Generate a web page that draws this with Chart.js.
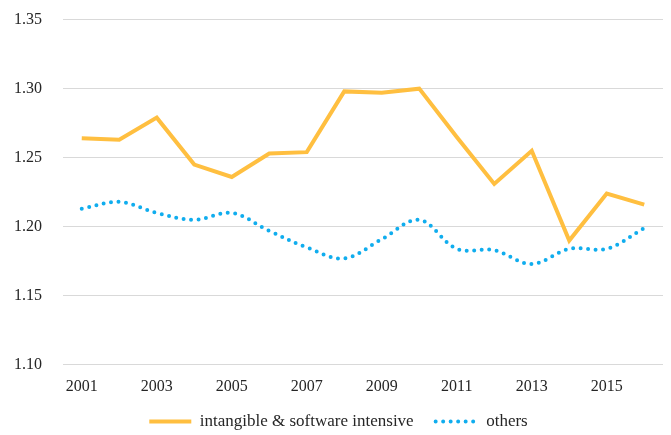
<!DOCTYPE html>
<html>
<head>
<meta charset="utf-8">
<script src="https://cdn.jsdelivr.net/npm/chart.js@4"></script>
<style>
    html, body { margin: 0; padding: 0; background: #fff; }
    #wrap { width: 671px; height: 435px; }
</style>
</head>
<body>
<div id="wrap"><canvas id="ratioChart"></canvas></div>
<script>
const years = ['2001', '2002', '2003', '2004', '2005', '2006', '2007', '2008',
               '2009', '2010', '2011', '2012', '2013', '2014', '2015', '2016'];
const intangible = [1.264, 1.263, 1.279, 1.245, 1.236, 1.253, 1.254, 1.298,
                    1.297, 1.300, 1.265, 1.231, 1.255, 1.190, 1.224, 1.216];
const others = [1.213, 1.218, 1.210, 1.205, 1.210, 1.197, 1.185, 1.177,
                1.191, 1.205, 1.184, 1.183, 1.173, 1.184, 1.184, 1.199];

const fontFamily = '"Liberation Serif", "DejaVu Serif", serif';
const textColor = '#262626';

// legend items take the point style by default, so copy the line's dash/cap back in
function legendLabels(chart) {
    const items = Chart.defaults.plugins.legend.labels.generateLabels(chart);
    items.forEach((item, i) => {
        const ds = chart.data.datasets[item.datasetIndex];
        item.lineDash = ds.borderDash || [];
        item.lineCap = ds.borderCapStyle || 'butt';
        item.lineWidth = ds.borderWidth;
        item.strokeStyle = ds.borderColor;
        // a bit of extra room after the first entry
        if (i === 0) item.text = item.text + '\u2003';
    });
    return items;
}

const ctx = document.getElementById('ratioChart').getContext('2d');
new Chart(ctx, {
    type: 'line',
    data: {
        labels: years,
        datasets: [
            {
                label: 'intangible & software intensive',
                data: intangible,
                borderColor: '#FFBF40',
                backgroundColor: '#FFBF40',
                borderWidth: 4,
                borderJoinStyle: 'miter',
                pointRadius: 0,
                tension: 0
            },
            {
                label: 'others',
                data: others,
                borderColor: '#10ADEE',
                backgroundColor: '#10ADEE',
                borderWidth: 4,
                borderDash: [0, 7.5],
                borderCapStyle: 'round',
                pointRadius: 0,
                tension: 0.35
            }
        ]
    },
    options: {
        responsive: true,
        maintainAspectRatio: false,
        animation: false,
        layout: { padding: { left: 14, right: 8, top: 5, bottom: -5 } },
        plugins: {
            tooltip: { enabled: false },
            legend: {
                position: 'bottom',
                labels: {
                    color: textColor,
                    font: { family: fontFamily, size: 17 },
                    usePointStyle: true,
                    pointStyle: 'line',
                    pointStyleWidth: 42,
                    padding: 5,
                    generateLabels: legendLabels
                }
            }
        },
        scales: {
            x: {
                offset: true,
                grid: { display: false, drawTicks: false },
                border: { display: false },
                ticks: {
                    color: textColor,
                    font: { family: fontFamily, size: 16 },
                    autoSkip: false,
                    maxRotation: 0,
                    padding: 12,
                    callback: function(value, index) {
                        return index % 2 === 0 ? years[index] : '';
                    }
                }
            },
            y: {
                min: 1.10,
                max: 1.35,
                grid: { color: '#d9d9d9', drawTicks: false },
                border: { display: false },
                afterFit: function(scale) {
                    scale.width = 49;
                },
                ticks: {
                    stepSize: 0.05,
                    color: textColor,
                    font: { family: fontFamily, size: 16 },
                    crossAlign: 'far',
                    padding: 10,
                    callback: function(value) {
                        return value.toFixed(2);
                    }
                }
            }
        }
    }
});
</script>
</body>
</html>
